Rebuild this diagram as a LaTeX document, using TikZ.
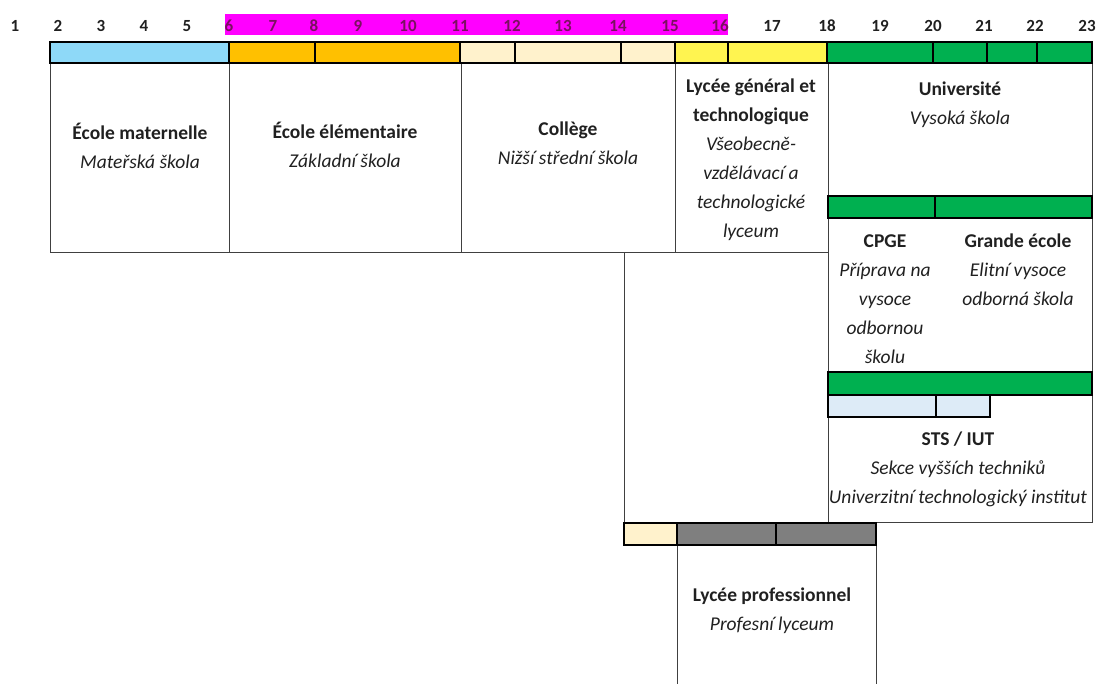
\documentclass[tikz,border=0pt]{standalone}
\usepackage{fontspec}
\setmainfont{Carlito}
\usetikzlibrary{positioning}

\definecolor{skyblue}{HTML}{8ED9F8}
\definecolor{amber}{HTML}{FFC000}
\definecolor{cream}{HTML}{FFF2CC}
\definecolor{lemon}{HTML}{FFF450}
\definecolor{leaf}{HTML}{00B050}
\definecolor{paleblue}{HTML}{DDEBF7}
\definecolor{midgray}{HTML}{7F7F7F}
\definecolor{pink}{HTML}{FF00FF}
\definecolor{plum}{HTML}{7A1060}
\definecolor{ink}{HTML}{202020}

\tikzset{
  bar/.style={draw=black,line width=1.8pt},
  box/.style={draw=black!75,line width=1pt},
  lbl/.style={align=center,text=ink,font=\fontsize{19.5}{29}\selectfont},
  num/.style={text=ink,font=\bfseries\fontsize{17}{18}\selectfont}
}

\begin{document}
\begin{tikzpicture}[x=1pt,y=-1pt]
\useasboundingbox (0,0) rectangle (1096,684);

% age scale
\fill[pink] (225,14) rectangle (728,35);
\foreach \n/\x in {1/15,2/58,3/101,4/144,5/187,17/772,18/827,19/880,20/933,21/984,22/1035,23/1087}
  \node[num] (age\n) at (\x,26) {\n};
\foreach \n/\x in {6/229,7/273,8/314,9/358,10/408,11/460,12/512,13/563,14/618,15/670,16/720}
  \node[num,text=plum] (age\n) at (\x,26) {\n};

% boxes
\draw[box] (50,63) rectangle (229,253);
\draw[box] (229,63) rectangle (461,253);
\draw[box] (461,63) rectangle (675,253);
\draw[box] (675,63) rectangle (828,253);
\draw[box] (828,63) rectangle (1092,196);
\draw[box] (828,218) rectangle (1092,372);
\draw[box] (828,395) rectangle (1092,523);
\draw[box] (624,253) rectangle (828,523);
\draw[box] (677,684) -- (677,545) -- (876,545) -- (876,684);

% top bar
\draw[bar,fill=skyblue] (50,42) rectangle (229,63);
\draw[bar,fill=amber] (229,42) rectangle (315,63);
\draw[bar,fill=amber] (315,42) rectangle (460,63);
\draw[bar,fill=cream] (460,42) rectangle (515,63);
\draw[bar,fill=cream] (515,42) rectangle (621,63);
\draw[bar,fill=cream] (621,42) rectangle (675,63);
\draw[bar,fill=lemon] (675,42) rectangle (728,63);
\draw[bar,fill=lemon] (728,42) rectangle (827,63);
\draw[bar,fill=leaf] (827,42) rectangle (933,63);
\draw[bar,fill=leaf] (933,42) rectangle (987,63);
\draw[bar,fill=leaf] (987,42) rectangle (1037,63);
\draw[bar,fill=leaf] (1037,42) rectangle (1092,63);

% higher education bars
\draw[bar,fill=leaf] (828,196) rectangle (935,218);
\draw[bar,fill=leaf] (935,196) rectangle (1092,218);
\draw[bar,fill=leaf] (828,372) rectangle (1092,395);
\draw[bar,fill=paleblue] (828,395) rectangle (936,417);
\draw[bar,fill=paleblue] (936,395) rectangle (990,417);

% vocational bar
\draw[bar,fill=cream] (624,523) rectangle (677,545);
\draw[bar,fill=midgray] (677,523) rectangle (776,545);
\draw[bar,fill=midgray] (776,523) rectangle (876,545);

% labels
\node[lbl] (maternelle) at (140,146) {\textbf{École maternelle}\\\textit{Mateřská škola}};
\node[lbl] (elementaire) at (345,145) {\textbf{École élémentaire}\\\textit{Základní škola}};
\node[lbl] (college) at (568,143) {\textbf{Collège}\\\textit{Nižší střední škola}};
\node[lbl] (lycee) at (751,160) {\textbf{Lycée général et}\\\textbf{technologique}\\\textit{Všeobecně-}\\\textit{vzdělávací a}\\\textit{technologické}\\\textit{lyceum}};
\node[lbl] (univ) at (960,105) {\textbf{Université}\\\textit{Vysoká škola}};
\node[lbl] (cpge) at (885,299) {\textbf{CPGE}\\\textit{Příprava na}\\\textit{vysoce}\\\textit{odbornou}\\\textit{školu}};
\node[lbl] (grande) at (1018,270) {\textbf{Grande école}\\\textit{Elitní vysoce}\\\textit{odborná škola}};
\node[lbl] (sts) at (958,469) {\textbf{STS / IUT}\\\textit{Sekce vyšších techniků}\\\textit{Univerzitní technologický institut}};
\node[lbl] (pro) at (772,611) {\textbf{Lycée professionnel}\\\textit{Profesní lyceum}};
\end{tikzpicture}
\end{document}
